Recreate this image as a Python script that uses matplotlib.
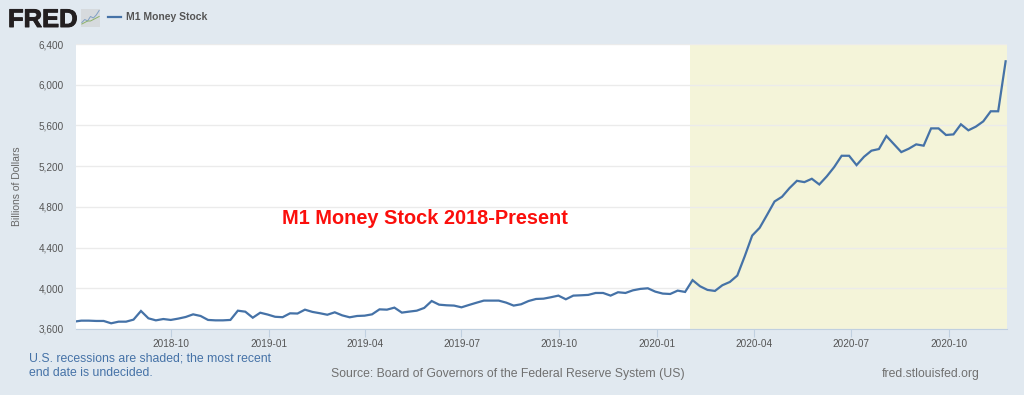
import numpy as np
import pandas as pd
import matplotlib.pyplot as plt
import matplotlib.dates as mdates
import matplotlib.patheffects as pe
from matplotlib.ticker import FuncFormatter

plt.rcParams['font.family'] = ['Liberation Sans', 'DejaVu Sans']

# weekly M1, billions of dollars
dates = pd.date_range('2018-07-02', '2020-11-23', freq='7D')
m1 = [3672, 3682, 3682, 3679, 3679, 3656, 3672, 3672, 3692, 3777,
      3705, 3685, 3698, 3689, 3702, 3718, 3744, 3728, 3689, 3685,
      3685, 3689, 3780, 3770, 3711, 3760, 3742, 3720, 3716, 3754,
      3752, 3790, 3768, 3755, 3740, 3764, 3734, 3715, 3728, 3731,
      3744, 3793, 3790, 3810, 3761, 3771, 3780, 3807, 3875, 3839,
      3833, 3830, 3813, 3836, 3858, 3879, 3879, 3879, 3859, 3830,
      3843, 3875, 3895, 3898, 3912, 3928, 3892, 3928, 3931, 3935,
      3954, 3954, 3928, 3961, 3954, 3980, 3994, 4000, 3967, 3948,
      3944, 3977, 3964, 4080, 4020, 3984, 3974, 4030, 4062, 4125,
      4315, 4518, 4594, 4722, 4853, 4899, 4984, 5056, 5043, 5076,
      5020, 5099, 5191, 5302, 5302, 5210, 5292, 5352, 5368, 5496,
      5417, 5338, 5371, 5414, 5401, 5571, 5571, 5506, 5512, 5611,
      5552, 5588, 5640, 5739, 5739, 6230]
y_ticks = [3600, 4000, 4400, 4800, 5200, 5600, 6000, 6400]
x_ticks = ['2018-10-01', '2019-01-01', '2019-04-01', '2019-07-01', '2019-10-01',
           '2020-01-01', '2020-04-01', '2020-07-01', '2020-10-01']
recession_start = '2020-02-01'
x_start = '2018-07-04'
x_end = '2020-11-24'

# little logo chart
logo_blue = [1, 3, 2, 5, 4, 6, 9]
logo_green = [0, 1, 2, 2, 3, 4, 5]

W, H = 1024, 395
bg = '#e1e9f0'
grey = '#666666'

fig = plt.figure(figsize=(W/100, H/100), dpi=100, facecolor=bg)
ax = fig.add_axes([76/W, 1-329/H, (1006.7-76)/W, (329-44)/H])

ax.axvspan(pd.Timestamp(recession_start), pd.Timestamp(x_end), color='#f4f4d9', lw=0)
ax.plot(dates, m1, '-', c='#4572a7', lw=1.6, solid_joinstyle='miter', label='M1 Money Stock')

ax.set_xlim(pd.Timestamp(x_start), pd.Timestamp(x_end))
ax.set_ylim(3600, 6400)
ax.set_yticks(y_ticks)
ax.yaxis.set_major_formatter(FuncFormatter(lambda v, p: format(int(v), ',')))
ax.set_xticks([pd.Timestamp(d) for d in x_ticks])
ax.xaxis.set_major_formatter(mdates.DateFormatter('%Y-%m'))
ax.grid(axis='y', color='#ebebeb', lw=1)

for s in ['top', 'left', 'right']:
    ax.spines[s].set_visible(False)
ax.spines['bottom'].set_color('#c0d0e0')
ax.tick_params(axis='y', length=0, pad=8.8, labelsize=7.2, labelcolor='#555555')
ax.tick_params(axis='x', length=6, width=0.8, color='#c0d0e0', pad=1.5, labelsize=7.2, labelcolor='#555555')

# header
fig.text(8/W, 1-27/H, 'FRED', fontsize=18.4, fontweight='bold', color='#231f20', va='baseline',
         path_effects=[pe.withStroke(linewidth=0.7, foreground='#231f20')])
ax_logo = fig.add_axes([81/W, 1-27/H, 19/W, 18/H], facecolor='#d6dadd')
ax_logo.plot(logo_blue, c='#7f9fc4', lw=0.7)
ax_logo.plot(logo_green, c='#8db26a', lw=0.7)
ax_logo.set_ylim(-2, 10)
ax_logo.set_xticks([])
ax_logo.set_yticks([])
for s in ax_logo.spines.values():
    s.set_visible(False)
fig.add_artist(plt.Line2D([108/W, 121/W], [1-17/H, 1-17/H], c='#4572a7', lw=1.6))
fig.text(126/W, 1-17/H, 'M1 Money Stock', fontsize=7.5, fontweight='bold', color='#555555', va='center')

# labels and notes
fig.text(17.5/W, 1-186/H, 'Billions of Dollars', fontsize=7.5, color=grey, rotation=90, ha='center', va='center')
fig.text(425/W, 1-219/H, 'M1 Money Stock 2018-Present', fontsize=14.45, fontweight='bold', color='#fb0f0c', ha='center', va='center')
fig.text(29/W, 1-358.5/H, 'U.S. recessions are shaded; the most recent', fontsize=8.8, color='#4572a7', va='center')
fig.text(29/W, 1-373.5/H, 'end date is undecided.', fontsize=8.8, color='#4572a7', va='center')
fig.text(331/W, 1-373.5/H, 'Source: Board of Governors of the Federal Reserve System (US)', fontsize=8.8, color='#707070', va='center')
fig.text(882/W, 1-373.5/H, 'fred.stlouisfed.org', fontsize=8.8, color='#707070', va='center')

fig.savefig('out.png', dpi=100, facecolor=bg)
